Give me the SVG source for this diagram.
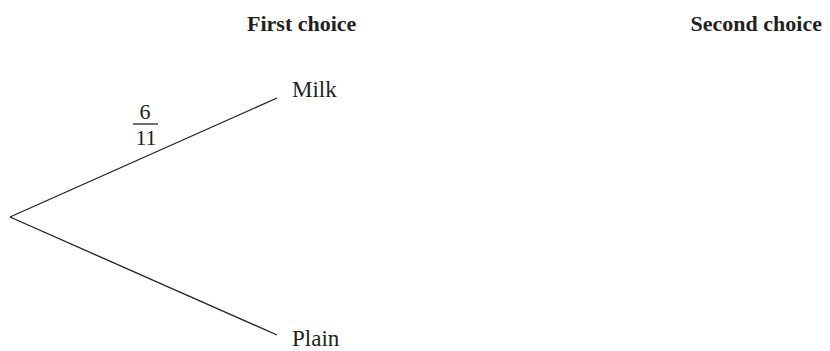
<svg xmlns="http://www.w3.org/2000/svg" width="830" height="351" viewBox="0 0 830 351">
<style>
.h{font-family:"Liberation Serif","Times New Roman",serif;font-size:22px;font-weight:bold;fill:#231f20}
.t{font-family:"Liberation Serif","Times New Roman",serif;font-size:23px;fill:#231f20}
.f{font-family:"Liberation Serif","Times New Roman",serif;font-size:22px;fill:#231f20}
.b{stroke:#231f20;stroke-width:1.3;fill:none}
</style>
<rect width="830" height="351" fill="#fff"/>
<g id="headers">
<text class="h" x="247" y="31">First choice</text>
<text class="h" x="822" y="31" text-anchor="end">Second choice</text>
</g>
<g id="connectors">
<line class="b" x1="10" y1="217" x2="277" y2="98"/>
<line class="b" x1="10" y1="217" x2="277" y2="335"/>
</g>
<g id="label-milk-prob">
<text class="f" x="145" y="119" text-anchor="middle">6</text>
<line class="b" x1="133" y1="124" x2="158" y2="124"/>
<text class="f" x="146" y="145" text-anchor="middle">11</text>
</g>
<g id="node-milk"><text class="t" x="292" y="97">Milk</text></g>
<g id="node-plain"><text class="t" x="292" y="346">Plain</text></g>
</svg>
